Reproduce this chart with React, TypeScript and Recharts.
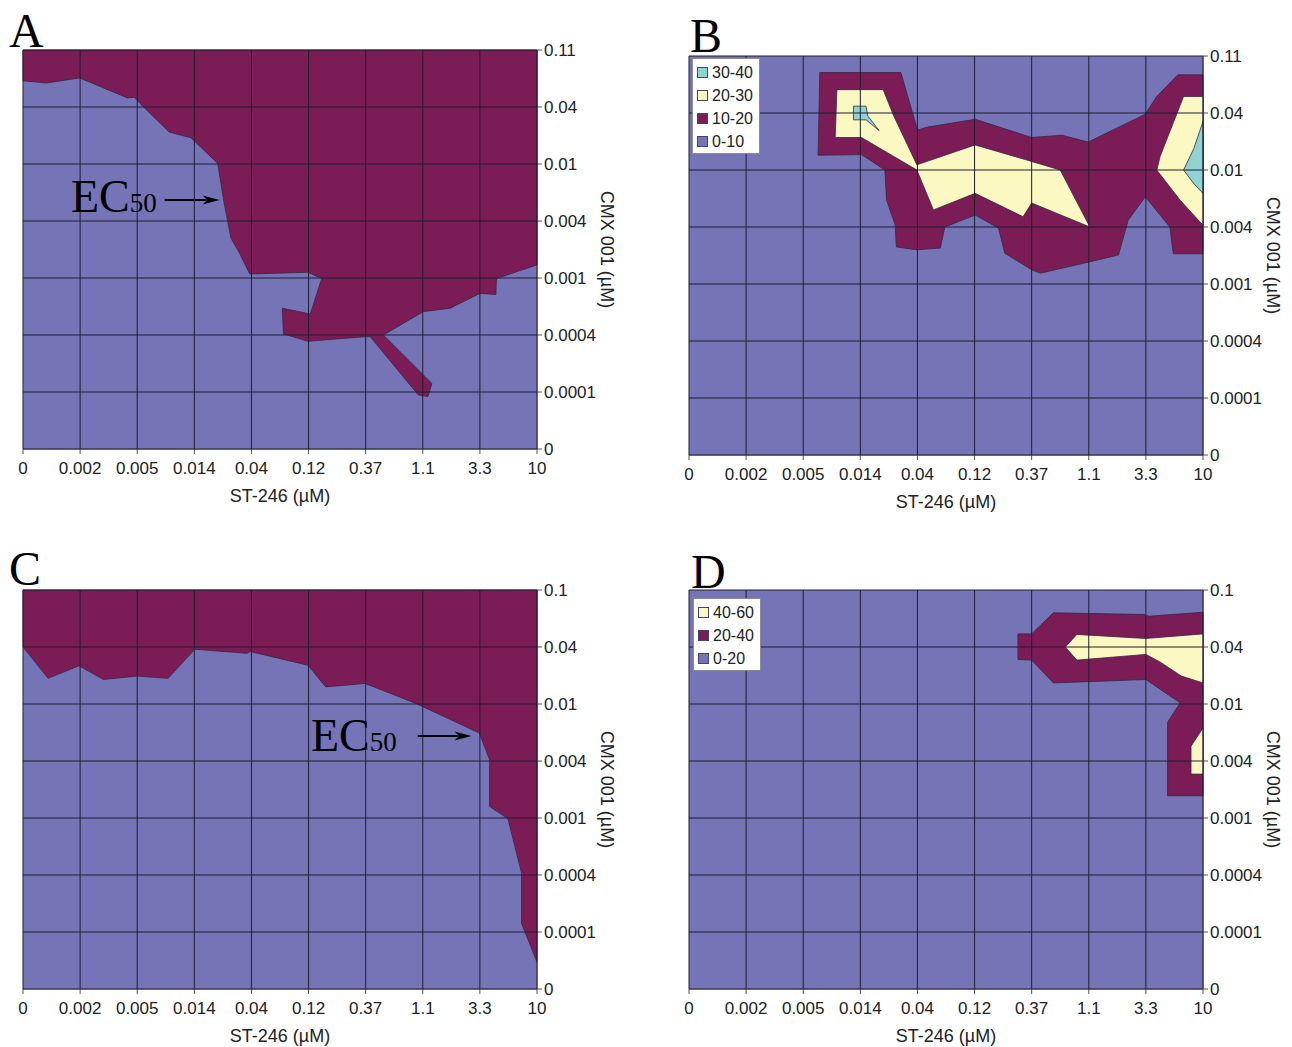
import React from 'react';
import { ScatterChart, Scatter, XAxis, YAxis, CartesianGrid } from 'recharts';

const X_LABELS = ['0', '0.002', '0.005', '0.014', '0.04', '0.12', '0.37', '1.1', '3.3', '10'];
const Y_LABELS_AB = ['0', '0.0001', '0.0004', '0.001', '0.004', '0.01', '0.04', '0.11'];
const Y_LABELS_CD = ['0', '0.0001', '0.0004', '0.001', '0.004', '0.01', '0.04', '0.1'];

const BLUE = '#7474b6';
const PURPLE = '#7b1c57';
const YELLOW = '#fbf8c2';
const CYAN = '#8fd3d3';

type Pt = [number, number];

// whole plot background (0-10 / 0-20 level)
const FULL: Pt[] = [[0, 0], [9, 0], [9, 7], [0, 7]];

// panel A, 50% contour region
const A_PURPLE: Pt[] = [
  [0, 7], [9, 7], [9, 3.23], [8.29, 2.99], [8.28, 2.71], [8.0, 2.73], [7.48, 2.47], [7.01, 2.41],
  [6.31, 2.0], [7.16, 1.15], [7.09, 0.92], [6.92, 0.95], [6.08, 1.97], [5.99, 1.97], [4.99, 1.89],
  [4.56, 2.02], [4.54, 2.47], [5.03, 2.37], [5.23, 2.99], [4.99, 3.1], [3.97, 3.07], [3.79, 3.44],
  [3.64, 3.7], [3.51, 4.38], [3.41, 5.01], [2.94, 5.46], [2.56, 5.56], [2.1, 6.01], [1.95, 6.17],
  [1.83, 6.16], [0.99, 6.51], [0.41, 6.42], [0, 6.46],
];

// panel B, synergy levels
const B_PURPLE: Pt[] = [
  [2.29, 6.71], [3.71, 6.71], [4.0, 5.7], [4.16, 5.75], [5.01, 5.89], [6.0, 5.57], [6.53, 5.61],
  [6.99, 5.49], [7.99, 5.98], [8.19, 6.29], [8.56, 6.67], [9, 6.67], [9, 3.53], [8.48, 3.53],
  [8.42, 4.0], [7.99, 4.53], [7.69, 4.12], [7.52, 3.51], [7.02, 3.39], [6.15, 3.19], [6.0, 3.25],
  [5.53, 3.54], [5.42, 3.98], [5.01, 4.21], [4.48, 4.0], [4.4, 3.63], [3.99, 3.6], [3.63, 3.65],
  [3.61, 4.04], [3.46, 4.47], [3.43, 5.0], [3.02, 5.27], [2.26, 5.26],
];
const B_YELLOW: Pt[] = [
  [2.59, 6.41], [3.4, 6.41], [3.58, 5.96], [3.99, 5.09], [5.01, 5.44], [6.0, 5.15], [6.5, 5.0],
  [7.02, 4.0], [6.0, 4.42], [5.85, 4.18], [5.01, 4.59], [4.28, 4.3], [3.99, 5.0], [3.02, 5.57],
  [2.56, 5.57],
];
const B_YELLOW_R: Pt[] = [[8.66, 6.29], [9, 6.29], [9, 4.03], [8.6, 4.47], [8.19, 5.0], [8.25, 5.24]];
const B_CYAN: Pt[] = [[2.88, 6.12], [3.1, 6.12], [3.13, 5.95], [3.33, 5.69], [3.1, 5.88], [2.88, 5.88]];
const B_CYAN_R: Pt[] = [[9, 5.85], [8.84, 5.38], [8.66, 5.0], [8.84, 4.76], [9, 4.59]];

// panel C, 50% contour region
const C_PURPLE: Pt[] = [
  [0, 7], [9, 7], [9, 0.47], [8.73, 1.15], [8.73, 2.03], [8.49, 2.99], [8.17, 3.2], [8.17, 4.02],
  [7.99, 4.49], [6.88, 5.01], [5.99, 5.36], [5.3, 5.3], [4.99, 5.68], [3.98, 5.92], [3.92, 5.89],
  [3.01, 5.96], [2.54, 5.45], [2.0, 5.49], [1.41, 5.43], [0.98, 5.67], [0.44, 5.45], [0, 6.0],
];

// panel D, synergy levels
const D_PURPLE: Pt[] = [
  [5.76, 6.23], [6.0, 6.23], [6.38, 6.6], [7.97, 6.57], [8.05, 6.54], [9, 6.61], [9, 3.39],
  [8.38, 3.39], [8.38, 4.68], [8.6, 5.02], [8.0, 5.43], [6.38, 5.37], [6.0, 5.77], [5.76, 5.78],
];
const D_YELLOW: Pt[] = [
  [6.59, 6.0], [6.79, 6.22], [8.0, 6.15], [9, 6.23], [9, 5.37], [8.62, 5.49], [8.26, 5.73],
  [8.0, 5.87], [6.79, 5.77],
];
const D_YELLOW_R: Pt[] = [[9, 4.58], [8.79, 4.26], [8.79, 3.77], [9, 3.77]];

const ARROW_A: Pt[] = [[2.48, 4.37], [3.44, 4.37]];
const ARROW_C: Pt[] = [[6.91, 4.44], [7.85, 4.44]];

const LEGEND_B = [
  { label: '30-40', color: CYAN },
  { label: '20-30', color: YELLOW },
  { label: '10-20', color: PURPLE },
  { label: '0-10', color: BLUE },
];
const LEGEND_D = [
  { label: '40-60', color: YELLOW },
  { label: '20-40', color: PURPLE },
  { label: '0-20', color: BLUE },
];

const toData = (p: Pt[]) => p.map(([x, y]) => ({ x, y }));

const polygonLine = (fill: string, stroke: string) => (props: any) => {
  const pts = (props.points || []).map((p: any) => `${p.x},${p.y}`).join(' ');
  return <polygon points={pts} fill={fill} stroke={stroke} strokeWidth={0.8} strokeLinejoin="round" />;
};

const arrowLine = (props: any) => {
  const [a, b] = props.points || [];
  if (!a || !b) return <g />;
  const len = 17;
  const hw = 4.5;
  return (
    <g>
      <line x1={a.x} y1={a.y} x2={b.x - len + 4} y2={b.y} stroke="#000" strokeWidth={2} />
      <polygon
        points={`${b.x},${b.y} ${b.x - len},${b.y - hw} ${b.x - len + 5},${b.y} ${b.x - len},${b.y + hw}`}
        fill="#000"
      />
    </g>
  );
};

const noDot = () => <g />;

type Layer = { pts: Pt[]; fill: string; stroke?: string };

function Panel({
  left,
  top,
  yLabels,
  layers,
  arrow,
}: {
  left: number;
  top: number;
  yLabels: string[];
  layers: Layer[];
  arrow?: Pt[];
}) {
  return (
    <div style={{ position: 'absolute', left: left - 43, top: top - 50 }}>
      <ScatterChart width={697} height={512} margin={{ top: 50, left: 43, right: 0, bottom: 10 }}>
        <XAxis
          type="number"
          dataKey="x"
          domain={[0, 9]}
          ticks={[0, 1, 2, 3, 4, 5, 6, 7, 8, 9]}
          interval={0}
          tickFormatter={(v: number) => X_LABELS[v]}
          height={53}
          tickSize={5}
          tickMargin={8}
          axisLine={{ stroke: '#555' }}
          tickLine={{ stroke: '#555' }}
          tick={{ fill: '#222', fontSize: 17 }}
          label={{ value: 'ST-246 (µM)', position: 'insideBottom', offset: 0, fill: '#222', fontSize: 18 }}
        />
        <YAxis
          type="number"
          dataKey="y"
          orientation="right"
          domain={[0, 7]}
          ticks={[0, 1, 2, 3, 4, 5, 6, 7]}
          interval={0}
          tickFormatter={(v: number) => yLabels[v]}
          width={140}
          tickSize={5}
          tickMargin={2}
          axisLine={{ stroke: '#555' }}
          tickLine={{ stroke: '#555' }}
          tick={{ fill: '#222', fontSize: 17 }}
          label={{ value: 'CMX 001 (µM)', angle: 90, position: 'center', fill: '#222', fontSize: 18 }}
        />
        <Scatter
          data={toData(FULL)}
          line={polygonLine(BLUE, 'none')}
          shape={noDot}
          isAnimationActive={false}
        />
        {layers.map((l, i) => (
          <Scatter
            key={i}
            data={toData(l.pts)}
            line={polygonLine(l.fill, l.stroke || '#3a2540')}
            shape={noDot}
            isAnimationActive={false}
          />
        ))}
        <CartesianGrid stroke="#1e1e30" strokeWidth={1} zIndex={1000} />
        {arrow && (
          <Scatter data={toData(arrow)} line={arrowLine} shape={noDot} isAnimationActive={false} />
        )}
      </ScatterChart>
    </div>
  );
}

function LegendBox({ items, left, top }: { items: { label: string; color: string }[]; left: number; top: number }) {
  return (
    <div
      style={{
        position: 'absolute',
        left,
        top,
        background: '#fff',
        border: '1px solid #8a8a9a',
        padding: '2px 6px 0 4px',
        fontSize: 16,
        color: '#222',
      }}
    >
      {items.map((it) => (
        <div key={it.label} style={{ display: 'flex', alignItems: 'center', height: 23 }}>
          <span
            style={{
              display: 'inline-block',
              width: 9,
              height: 9,
              background: it.color,
              border: '1px solid #446',
              marginRight: 4,
            }}
          />
          <span>{it.label}</span>
        </div>
      ))}
    </div>
  );
}

const letterStyle: React.CSSProperties = {
  position: 'absolute',
  fontFamily: '"Liberation Serif", "Times New Roman", serif',
  fontSize: 48,
  lineHeight: '48px',
  color: '#000',
};

function Ec50({ left, top }: { left: number; top: number }) {
  return (
    <div style={{ ...letterStyle, left, top, fontSize: 46, lineHeight: '46px' }}>
      EC<span style={{ fontSize: 27 }}>50</span>
    </div>
  );
}

export default function App() {
  return (
    <div
      style={{
        position: 'absolute',
        left: 0,
        top: 0,
        width: 1292,
        height: 1047,
        overflow: 'hidden',
        background: '#fff',
        fontFamily: '"Liberation Sans", Arial, sans-serif',
      }}
    >
      <Panel left={23} top={50} yLabels={Y_LABELS_AB} layers={[{ pts: A_PURPLE, fill: PURPLE }]} arrow={ARROW_A} />
      <Panel
        left={689}
        top={56}
        yLabels={Y_LABELS_AB}
        layers={[
          { pts: B_PURPLE, fill: PURPLE },
          { pts: B_YELLOW, fill: YELLOW },
          { pts: B_YELLOW_R, fill: YELLOW },
          { pts: B_CYAN, fill: CYAN },
          { pts: B_CYAN_R, fill: CYAN },
        ]}
      />
      <Panel left={23} top={590} yLabels={Y_LABELS_CD} layers={[{ pts: C_PURPLE, fill: PURPLE }]} arrow={ARROW_C} />
      <Panel
        left={689}
        top={590}
        yLabels={Y_LABELS_CD}
        layers={[
          { pts: D_PURPLE, fill: PURPLE },
          { pts: D_YELLOW, fill: YELLOW },
          { pts: D_YELLOW_R, fill: YELLOW },
        ]}
      />
      <LegendBox items={LEGEND_B} left={692} top={58} />
      <LegendBox items={LEGEND_D} left={693} top={598} />
      <div style={{ ...letterStyle, left: 9, top: 7 }}>A</div>
      <div style={{ ...letterStyle, left: 690, top: 12 }}>B</div>
      <div style={{ ...letterStyle, left: 9, top: 545 }}>C</div>
      <div style={{ ...letterStyle, left: 691, top: 548 }}>D</div>
      <Ec50 left={71} top={174} />
      <Ec50 left={311} top={713} />
    </div>
  );
}
